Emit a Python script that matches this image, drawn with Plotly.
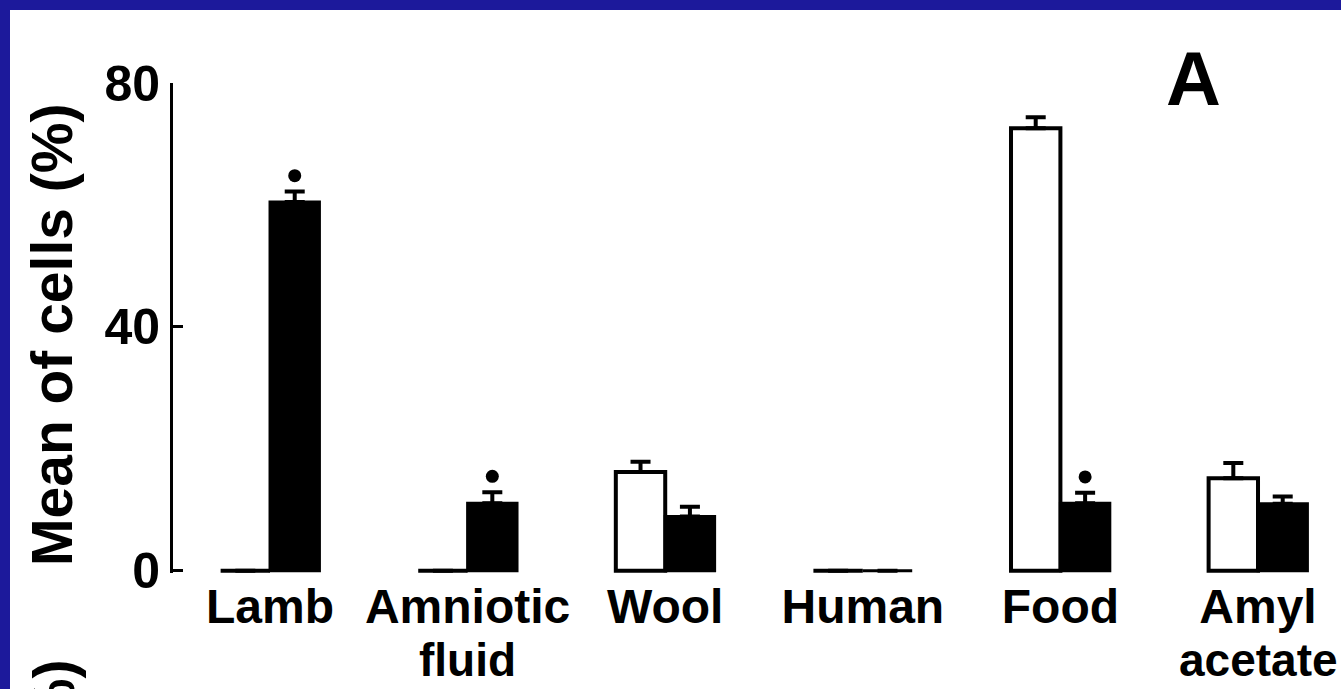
import numpy as np
import plotly.graph_objects as go

# ---------------- data ----------------
categories = ["Lamb", "Amniotic\nfluid", "Wool", "Human", "Food", "Amyl\nacetate"]
open_mean = [0, 0, 16.2, 0, 72.6, 15.2]        # white bars
open_sem = [0, 0, 1.7, 0, 1.8, 2.5]
filled_mean = [60.5, 11.1, 8.9, 0, 11.1, 11.0]  # black bars
filled_sem = [1.7, 1.8, 1.6, 0, 1.7, 1.2]
significant = [True, True, False, False, True, False]
y_ticks = [0, 40, 80]
y_title = "Mean of cells (%)"
panel_label = "A"

# ---------------- layout constants ----------------
W, H = 1341, 689
L, R, T, B = 173, 0, 83, 116
PW, PH = W - L - R, H - T - B
BLUE = "#1c199b"
SANS = "Liberation Sans, Arial, Helvetica, sans-serif"
BW = 0.25


def px_x(p):
    return (p - L) / PW


def px_y(p):
    return (H - B - p) / PH


x = np.arange(len(categories))
line1 = [c.split("\n")[0] for c in categories]
line2 = [c.split("\n")[1] if "\n" in c else "" for c in categories]


def err(vals):
    return [v if v > 0 else None for v in vals]


fig = go.Figure()
fig.add_bar(
    x=x, y=open_mean, width=BW, offset=-BW,
    marker=dict(color="white", line=dict(color="black", width=4)),
    error_y=dict(type="data", array=err(open_sem), arrayminus=[0] * len(x),
                 symmetric=False, color="black", thickness=4, width=10),
    showlegend=False, hoverinfo="skip",
)
fig.add_bar(
    x=x, y=filled_mean, width=BW, offset=0,
    marker=dict(color="black", line=dict(color="black", width=3)),
    error_y=dict(type="data", array=err(filled_sem), arrayminus=[0] * len(x),
                 symmetric=False, color="black", thickness=4, width=10),
    showlegend=False, hoverinfo="skip",
)

sig_idx = [i for i, s in enumerate(significant) if s]
fig.add_scatter(
    x=[x[i] + BW / 2 for i in sig_idx],
    y=[filled_mean[i] + filled_sem[i] + 2.6 for i in sig_idx],
    mode="markers", marker=dict(color="black", size=13),
    showlegend=False, hoverinfo="skip",
)

annotations = []
for i, t in enumerate(line2):
    if t:
        annotations.append(dict(
            x=x[i], xref="x", y=px_y(660), yref="paper",
            text=t, showarrow=False, xanchor="center", yanchor="middle",
            font=dict(family=SANS, size=46, color="black", weight="bold"),
        ))
annotations.append(dict(
    x=px_x(1193), y=px_y(78), xref="paper", yref="paper", text=panel_label,
    showarrow=False, xanchor="center", yanchor="middle",
    font=dict(family=SANS, size=76, color="black", weight="bold"),
))
annotations.append(dict(
    x=px_x(52), y=px_y(335), xref="paper", yref="paper", text=y_title,
    textangle=-90, showarrow=False, xanchor="center", yanchor="middle",
    font=dict(family=SANS, size=57, color="black", weight="bold"),
))
# top of next panel's axis title (cut by the page edge)
annotations.append(dict(
    x=px_x(54), y=px_y(658), xref="paper", yref="paper", text=y_title,
    textangle=-90, showarrow=False, xanchor="center", yanchor="top",
    font=dict(family=SANS, size=57, color="black", weight="bold"),
))

fig.update_layout(
    width=W, height=H, autosize=False,
    margin=dict(l=L, r=R, t=T, b=B, pad=0, autoexpand=False),
    paper_bgcolor=BLUE,
    plot_bgcolor="rgba(0,0,0,0)",
    barmode="overlay",
    shapes=[dict(type="rect", xref="paper", yref="paper",
                 x0=px_x(10), x1=px_x(W + 5), y0=px_y(H + 5), y1=px_y(10),
                 fillcolor="white", line=dict(width=0), layer="below")],
    annotations=annotations,
    xaxis=dict(
        range=[-0.491, 5.42], tickvals=x, ticktext=line1, ticks="",
        showline=False, showgrid=False, zeroline=False, tickangle=0,
        automargin=False,
        tickfont=dict(family=SANS, size=48, color="black", weight="bold"),
        ticklabelstandoff=1, fixedrange=True,
    ),
    yaxis=dict(
        range=[-0.35, 80], tickvals=y_ticks, ticks="inside", ticklen=10,
        tickwidth=3, tickcolor="black", showline=True, linewidth=3,
        linecolor="black", showgrid=False, zeroline=False, automargin=False,
        tickfont=dict(family=SANS, size=50, color="black", weight="bold"),
        fixedrange=True,
    ),
)

fig.write_html("out.html", config={"displayModeBar": False},
               post_script="document.body.style.margin='0';document.body.style.overflow='hidden';")
